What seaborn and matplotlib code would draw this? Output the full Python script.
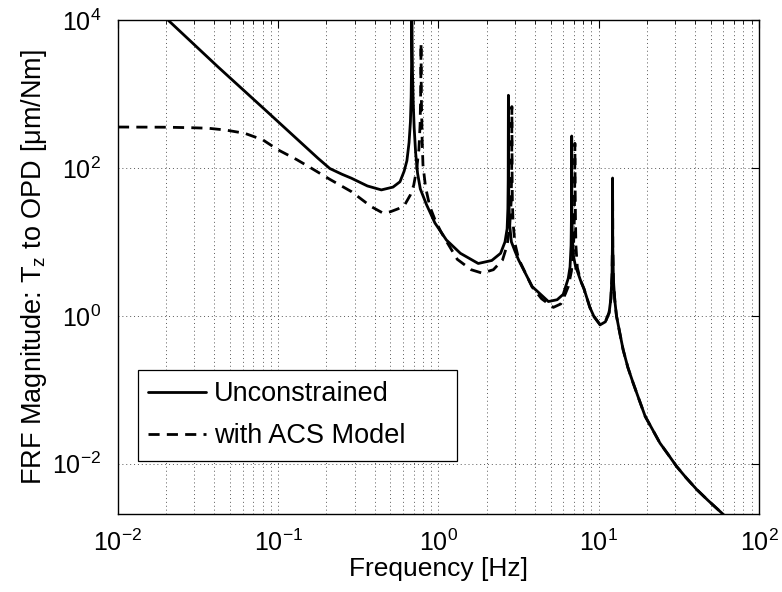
import matplotlib
matplotlib.use("Agg")
import matplotlib.pyplot as plt
import matplotlib.ticker as mticker
from matplotlib.patches import Rectangle
import numpy as np
import pandas as pd
import seaborn as sns

# ---- data ----
freq_unconstrained = [0.019, 0.0205, 0.042, 0.0863, 0.177, 0.21, 0.25, 0.286, 0.36, 0.44,
                      0.52, 0.575, 0.61, 0.635, 0.655, 0.668, 0.675, 0.679, 0.681, 0.684,
                      0.688, 0.695, 0.705, 0.72, 0.74, 0.77, 0.841, 0.95, 1.12, 1.37,
                      1.77, 2.15, 2.44, 2.6, 2.68, 2.71, 2.722, 2.73, 2.738, 2.75,
                      2.78, 2.85, 3.0, 3.16, 3.84, 4.85, 5.5, 6.0, 6.45, 6.62,
                      6.72, 6.765, 6.78, 6.795, 6.84, 6.95, 7.2, 7.3, 7.7, 8.1,
                      8.8, 9.33, 10.2, 11.0, 11.6, 11.9, 12.1, 12.17, 12.2, 12.23,
                      12.35, 12.6, 12.9, 13.5, 14.2, 15.2, 16.4, 17.8, 19.5, 21.5,
                      24.1, 27.0, 30.6, 35.0, 40.8, 48.0, 58.5, 64.0]
mag_unconstrained = [11500, 10000, 2330, 562, 135, 98, 82, 72.6, 57, 50.4,
                     55, 65, 90, 125, 220, 420, 900, 2500, 20000, 6000,
                     2000, 800, 350, 160, 85, 52, 32, 18, 10.6, 7.0,
                     5.1, 5.6, 7.0, 10, 15, 28, 70, 960, 80, 35,
                     17, 10, 7.5, 5.7, 2.49, 1.56, 1.65, 1.95, 3.2, 4.6,
                     9, 30, 270, 30, 12, 6.5, 4.4, 4.2, 3.0, 2.3,
                     1.3, 0.98, 0.755, 0.83, 1.1, 1.7, 3.5, 9, 73, 9,
                     3.0, 1.6, 1.0, 0.6, 0.347, 0.2, 0.123, 0.075, 0.0436, 0.0298,
                     0.019, 0.0135, 0.0092, 0.0065, 0.0045, 0.0032, 0.00216, 0.0018]

freq_acs = [0.01, 0.02, 0.028, 0.0365, 0.047, 0.0617, 0.08, 0.1, 0.13, 0.161,
            0.21, 0.286, 0.38, 0.45, 0.5, 0.56, 0.615, 0.667, 0.70, 0.73,
            0.755, 0.768, 0.775, 0.778, 0.781, 0.79, 0.80, 0.83, 0.883, 0.95,
            1.03, 1.12, 1.31, 1.6, 1.87, 2.2, 2.51, 2.68, 2.78, 2.84,
            2.862, 2.87, 2.878, 2.89, 2.92, 3.0, 3.16, 3.84, 4.4, 5.21,
            5.8, 6.2, 6.46, 6.75, 6.95, 7.04, 7.08, 7.1, 7.12, 7.16,
            7.2, 7.35, 7.7, 8.1, 8.8, 9.33, 10.2, 11.0, 11.6, 11.9,
            12.1, 12.17, 12.2, 12.23, 12.35, 12.6, 12.9, 13.5, 14.2, 15.2,
            16.4, 17.8, 19.5, 21.5, 24.1, 27.0, 30.6, 35.0, 40.8, 48.0,
            58.5, 64.0]
mag_acs = [357, 355, 350, 344, 325, 294, 240, 175, 130, 99,
           70, 47.8, 30, 24.5, 25.5, 28, 31.6, 43, 58, 95,
           180, 400, 1200, 4840, 1000, 250, 110, 55, 30, 20,
           14, 10.2, 5.8, 4.2, 3.78, 4.2, 5.7, 9, 16, 35,
           90, 675, 90, 35, 18, 9.5, 5.9, 2.45, 1.7, 1.3,
           1.45, 2.0, 2.5, 4.0, 7.5, 20, 60, 215, 60, 20,
           9, 4.5, 3.0, 2.3, 1.3, 0.98, 0.755, 0.83, 1.1, 1.7,
           3.5, 9, 73, 9, 3.0, 1.6, 1.0, 0.6, 0.347, 0.2,
           0.123, 0.075, 0.0436, 0.0298, 0.019, 0.0135, 0.0092, 0.0065, 0.0045, 0.0032,
           0.00216, 0.0018]

series_names = ["Unconstrained", "with ACS Model"]
x_tick_values = [1e-2, 1e-1, 1e0, 1e1, 1e2]
y_tick_values = [1e-2, 1e0, 1e2, 1e4]

df_u = pd.DataFrame({"f": freq_unconstrained, "m": mag_unconstrained})
df_a = pd.DataFrame({"f": freq_acs, "m": mag_acs})

# ---- style ----
sns.set_theme(style="white")
plt.rcParams["font.family"] = ["Liberation Sans", "DejaVu Sans"]
plt.rcParams["mathtext.fontset"] = "custom"
plt.rcParams["mathtext.rm"] = "Liberation Sans"
plt.rcParams["mathtext.it"] = "Liberation Sans"
plt.rcParams["mathtext.default"] = "regular"
plt.rcParams["text.color"] = "black"
plt.rcParams["axes.labelcolor"] = "black"
plt.rcParams["xtick.color"] = "black"
plt.rcParams["ytick.color"] = "black"

fig = plt.figure(figsize=(7.82, 5.92), dpi=100)
ax = fig.add_axes([118 / 782, 1 - 514 / 592, 641 / 782, 494 / 592])

ax.set_xscale("log")
ax.set_yscale("log")

sns.lineplot(data=df_u, x="f", y="m", ax=ax, color="black", lw=2.0,
             estimator=None, sort=False, label=series_names[0])
sns.lineplot(data=df_a, x="f", y="m", ax=ax, color="black", lw=2.0,
             estimator=None, sort=False, label=series_names[1],
             linestyle=(0, (4, 2.6)))

ax.set_xlim(1e-2, 1e2)
ax.set_ylim(10 ** -2.68, 1e4)

ax.xaxis.set_major_locator(mticker.FixedLocator(x_tick_values))
ax.xaxis.set_minor_locator(mticker.LogLocator(base=10, subs=np.arange(2, 10), numticks=20))
ax.yaxis.set_major_locator(mticker.FixedLocator(y_tick_values))
ax.yaxis.set_minor_locator(mticker.NullLocator())
ax.xaxis.set_major_formatter(mticker.LogFormatterSciNotation())
ax.yaxis.set_major_formatter(mticker.LogFormatterSciNotation())

ax.grid(True, which="major", axis="both", color="0.35", lw=0.7, linestyle=(0, (1, 3)))
ax.grid(True, which="minor", axis="x", color="0.35", lw=0.7, linestyle=(0, (1, 3)))

ax.tick_params(which="both", direction="in", top=True, right=True, colors="black",
               labelsize=18)
ax.tick_params(axis="x", which="major", pad=11)
ax.tick_params(axis="y", which="major", pad=12)
ax.tick_params(which="major", length=6, width=0.8)
ax.tick_params(which="minor", length=3, width=0.6)
for s in ax.spines.values():
    s.set_color("black")
    s.set_linewidth(1.0)

ax.set_xlabel("Frequency [Hz]", fontsize=19, labelpad=1)
ax.set_ylabel("FRF Magnitude: T$_z$ to OPD [\u03bcm/Nm]", fontsize=19.5, labelpad=2)

# legend with MATLAB-like box
box = Rectangle((20 / 641, (514 - 461) / 494), (457 - 138) / 641, (461 - 370) / 494,
                transform=ax.transAxes, facecolor="white", edgecolor="black",
                lw=0.9, zorder=4)
ax.add_patch(box)
leg = ax.legend(loc="upper left", bbox_to_anchor=((151 - 118) / 641 - 0.005, (514 - 381) / 494),
                frameon=False, fontsize=19.5, handlelength=2.15, handletextpad=0.3,
                labelspacing=0.6, borderaxespad=0, borderpad=0)
leg.set_zorder(5)

fig.savefig("out.png", dpi=100, facecolor="white")
